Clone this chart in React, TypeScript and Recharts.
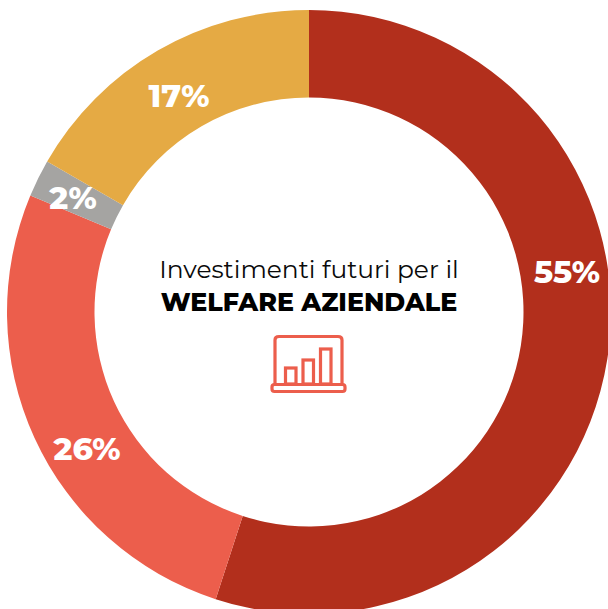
import { PieChart, Pie, Cell } from 'recharts'

const categories = ['A', 'B', 'C', 'D']
const valori = [55, 26.3, 2, 16.7]
const etichette = ['55%', '26%', '2%', '17%']
const colori = ['#b22f1c', '#ec5e4c', '#a5a4a2', '#e5aa44']
const testo = ['Investimenti futuri per il', 'WELFARE AZIENDALE']

// le etichette non stanno a meta' della fetta
const posEtichette = [
  { x: 567, y: 272 },
  { x: 87, y: 449 },
  { x: 73, y: 198 },
  { x: 179, y: 96 },
]
const barre = [
  { x: 285.5, h: 16 },
  { x: 303, h: 24 },
  { x: 320.5, h: 35 },
]

const dati = categories.map((nome, i) => ({ nome, valore: valori[i] }))
const font = 'Montserrat, "Open Sans", Lato, sans-serif'

const renderLabel = ({ index }: any) => (
  <text
    x={posEtichette[index].x}
    y={posEtichette[index].y}
    fill="#fff"
    fontFamily={font}
    fontSize={31.5}
    fontWeight={800}
    textAnchor="middle"
    dominantBaseline="central"
  >
    {etichette[index]}
  </text>
)

export default function App() {
  return (
    <div style={{ position: 'fixed', left: 0, top: 0, width: 608, height: 609, background: '#fff' }}>
      <PieChart width={608} height={609} margin={{ top: 0, right: 0, bottom: 0, left: 0 }}>
        <Pie
          data={dati}
          dataKey="valore"
          nameKey="nome"
          cx={309}
          cy={312}
          innerRadius={214.5}
          outerRadius={302}
          startAngle={90}
          endAngle={-270}
          stroke="none"
          isAnimationActive={false}
          label={renderLabel}
          labelLine={false}
        >
          {dati.map((d, i) => (
            <Cell key={d.nome} fill={colori[i]} />
          ))}
        </Pie>
        <text x={309} y={278} textAnchor="middle" fontFamily={font} fontSize={24.9} fill="#0a0a0a">
          {testo[0]}
        </text>
        <text x={309} y={311} textAnchor="middle" fontFamily={font} fontSize={25.3} fontWeight={800} fill="#000">
          {testo[1]}
        </text>
        <g fill="none" stroke="#ec5e4c" strokeWidth={3.2}>
          <path d="M 275 384 V 340 Q 275 336.5 279 336.5 H 338 Q 342 336.5 342 340 V 384" />
          <rect x={272} y={384.5} width={73} height={7} rx={2.5} />
          {barre.map((b) => (
            <rect key={b.x} x={b.x} y={384 - b.h} width={10.5} height={b.h} />
          ))}
        </g>
      </PieChart>
    </div>
  )
}
